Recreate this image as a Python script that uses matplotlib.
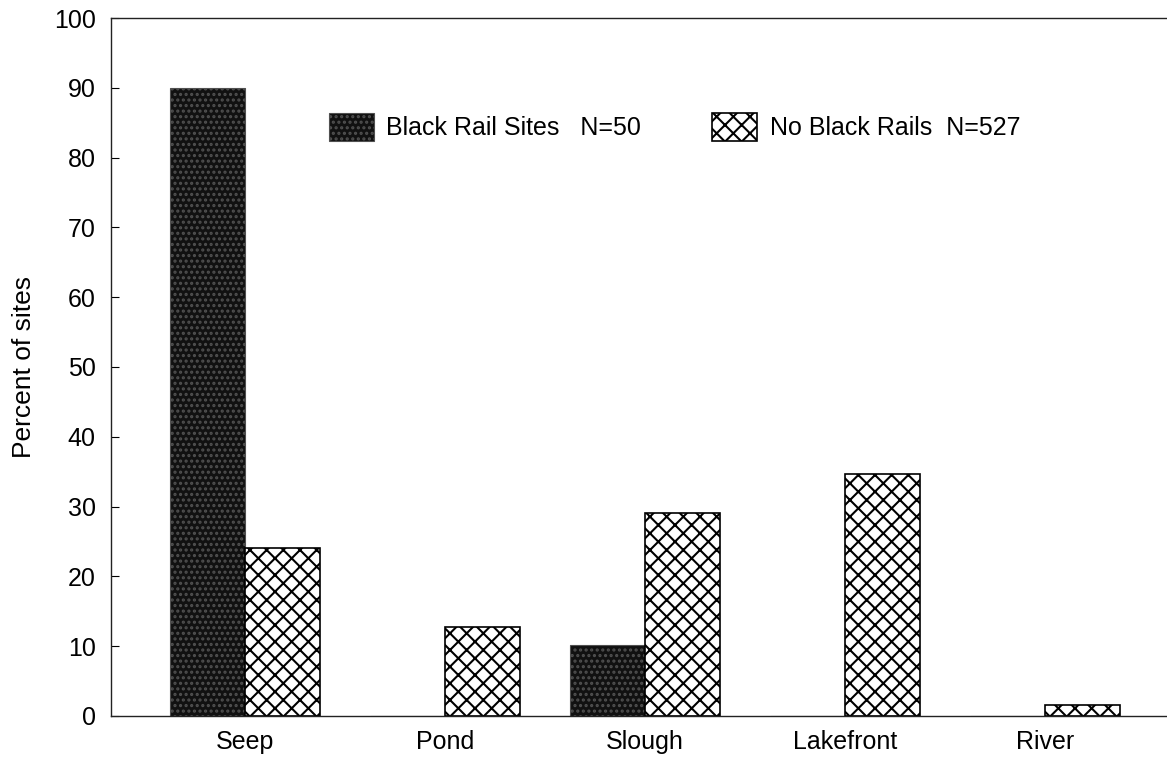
import matplotlib.pyplot as plt
import numpy as np

plt.rcParams['font.family'] = ['Liberation Sans', 'DejaVu Sans']
plt.rcParams['hatch.linewidth'] = 1.5

categories = ['Seep', 'Pond', 'Slough', 'Lakefront', 'River']
black_rail = [90, 0, 10.2, 0, 0]
no_black_rail = [24, 12.7, 29.1, 34.6, 1.6]
yticks = list(range(0, 101, 10))

fig = plt.figure(figsize=(11.67, 7.57), dpi=100)
ax = fig.add_axes([0.0951, 0.0542, 0.9049, 0.922])

x = np.arange(len(categories))
w = 0.375
ax.bar(x - w / 2, black_rail, w, color='#111111', edgecolor='#505050', hatch='...',
       linewidth=0.8, label='Black Rail Sites   N=50')
ax.bar(x + w / 2, no_black_rail, w, color='white', edgecolor='black', hatch='xx',
       linewidth=1.2, label='No Black Rails  N=527')

ax.set_xlim(-0.67, 4.61)
ax.set_ylim(0, 100)
ax.set_yticks(yticks)
ax.set_xticks(x)
ax.set_xticklabels(categories, fontsize=18)
ax.tick_params(axis='x', length=0, pad=10)
ax.tick_params(axis='y', direction='in', length=6, labelsize=18, pad=11)
ax.set_ylabel('Percent of sites', fontsize=19, labelpad=13)

ax.spines['right'].set_visible(False)
for s in ['left', 'top', 'bottom']:
    ax.spines[s].set_linewidth(1.0)
    ax.spines[s].set_color('#222222')

ax.legend(loc='center left', bbox_to_anchor=(0.206, 0.844), ncol=2, frameon=False,
          fontsize=18, handlelength=1.8, handleheight=1.3, columnspacing=2.85,
          handletextpad=0.5, borderpad=0, borderaxespad=0)

fig.savefig('out.png', dpi=100)
